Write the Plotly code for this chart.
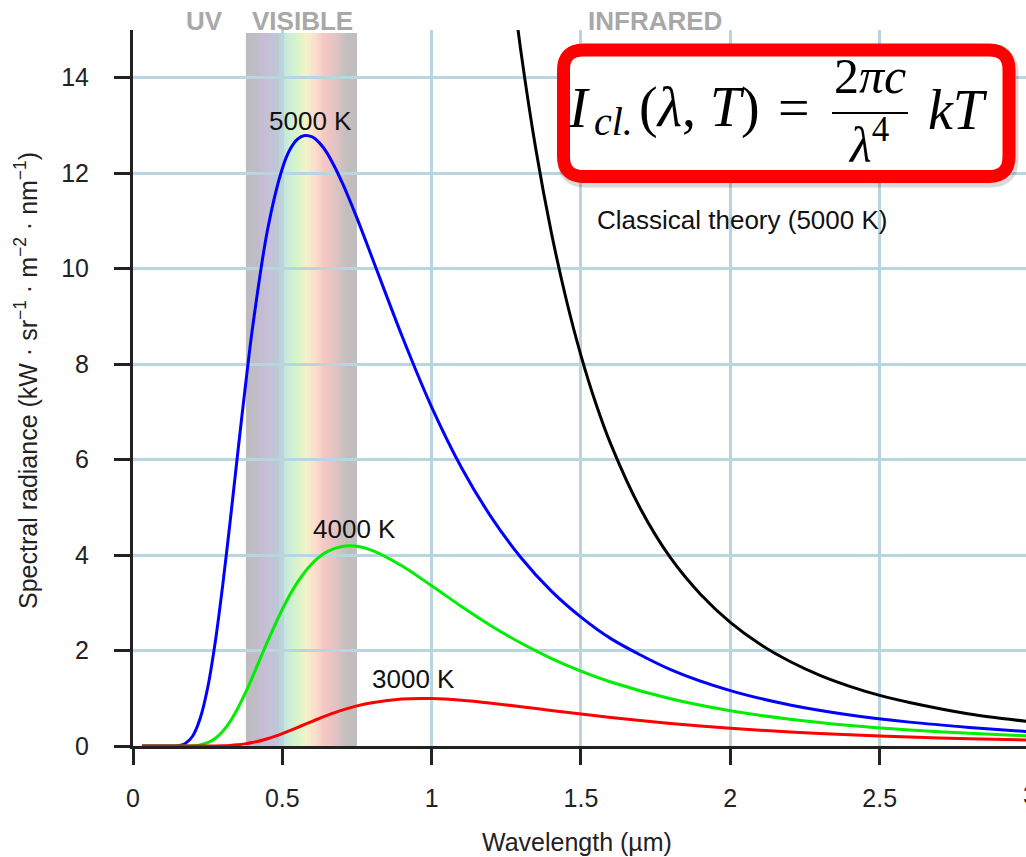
import plotly.graph_objects as go

# ---------------- data ----------------
wavelength_um = [0.03, 0.1, 0.15, 0.175, 0.2, 0.225, 0.25, 0.275, 0.3, 0.325, 0.35, 0.375,
                 0.4, 0.45, 0.5, 0.525, 0.55, 0.575, 0.6, 0.625, 0.65, 0.7, 0.75, 0.8, 0.9, 1.0,
                 1.1, 1.2, 1.3, 1.4, 1.5, 1.6, 1.8, 2.0, 2.2, 2.4, 2.6, 2.8, 3.0]

radiance_5000K = [0, 0, 0.007, 0.053, 0.21, 0.58, 1.22, 2.16, 3.35, 4.69, 6.10, 7.47,
                  8.75, 10.80, 12.10, 12.49, 12.71, 12.79, 12.76, 12.63, 12.42, 11.81, 11.06, 10.24, 8.60, 7.10,
                  5.83, 4.79, 3.94, 3.25, 2.70, 2.25, 1.60, 1.16, 0.86, 0.65, 0.50, 0.39, 0.30]

radiance_4000K = [0, 0, 0, 0.001, 0.006, 0.024, 0.069, 0.158, 0.304, 0.512, 0.781, 1.096,
                  1.445, 2.182, 2.865, 3.163, 3.423, 3.644, 3.823, 3.966, 4.071, 4.180, 4.183, 4.099, 3.775, 3.356,
                  2.922, 2.514, 2.152, 1.838, 1.568, 1.341, 0.989, 0.738, 0.560, 0.430, 0.336, 0.265, 0.212]

radiance_3000K = [0, 0, 0, 0, 0, 0, 0.0006, 0.002, 0.0056, 0.0128, 0.0255, 0.0449,
                  0.072, 0.152, 0.260, 0.322, 0.386, 0.452, 0.518, 0.581, 0.642, 0.751, 0.840, 0.907, 0.983, 0.993,
                  0.957, 0.896, 0.823, 0.745, 0.668, 0.597, 0.472, 0.372, 0.295, 0.235, 0.188, 0.152, 0.124]

classical_wavelength_um = [1.25, 1.3, 1.35, 1.4, 1.45, 1.5, 1.55, 1.6, 1.7, 1.8, 1.9, 2.0,
                           2.1, 2.2, 2.3, 2.4, 2.5, 2.6, 2.8, 3.0]
classical_5000K = [16.96, 14.50, 12.46, 10.78, 9.37, 8.18, 7.17, 6.32, 4.96, 3.94, 3.18, 2.59,
                   2.13, 1.77, 1.48, 1.25, 1.06, 0.91, 0.67, 0.51]

x_tick_vals = [0, 0.5, 1, 1.5, 2, 2.5]
x_tick_text = ["0", "0.5", "1", "1.5", "2", "2.5"]
y_tick_vals = [0, 2, 4, 6, 8, 10, 12, 14]

visible_band = (0.378, 0.75)
band_stops = [  # (wavelength, rgb)
    (0.378, (190, 188, 190)),
    (0.415, (192, 188, 200)),
    (0.445, (200, 190, 215)),
    (0.485, (188, 200, 214)),
    (0.51, (198, 234, 222)),
    (0.545, (212, 244, 202)),
    (0.58, (244, 242, 200)),
    (0.61, (250, 222, 204)),
    (0.64, (246, 200, 196)),
    (0.68, (225, 195, 195)),
    (0.715, (196, 190, 190)),
    (0.75, (192, 190, 190)),
]

# ---------------- layout helpers ----------------
W, H = 1026, 857
ML, MR, MT, MB = 133, 0, 30, 111
PW, PH = W - ML - MR, H - MT - MB


def X(px):
    return (px - ML) / PW


def Y(py):
    return (H - MB - py) / PH


FONT = "Liberation Sans, Arial, sans-serif"
SERIF = "Liberation Serif, Times New Roman, serif"

fig = go.Figure()

line_w = 3
spl = dict(shape="spline", smoothing=0.8)
fig.add_trace(go.Scatter(x=wavelength_um, y=radiance_5000K, mode="lines",
                         line=dict(color="#0000ff", width=line_w, **spl), name="5000 K"))
fig.add_trace(go.Scatter(x=wavelength_um, y=radiance_4000K, mode="lines",
                         line=dict(color="#00ee00", width=line_w, **spl), name="4000 K"))
fig.add_trace(go.Scatter(x=wavelength_um, y=radiance_3000K, mode="lines",
                         line=dict(color="#ff0000", width=line_w, **spl), name="3000 K"))
fig.add_trace(go.Scatter(x=classical_wavelength_um, y=classical_5000K, mode="lines",
                         line=dict(color="#000000", width=line_w, **spl),
                         name="Classical theory (5000 K)"))

shapes = []
# visible-light band (gradient from overlapping thin slices), drawn below the grid
n = 60
x0b, x1b = visible_band
step = (x1b - x0b) / n
for i in range(n):
    a = x0b + step * i
    m = a + step / 2
    for j in range(len(band_stops) - 1):
        if band_stops[j][0] <= m <= band_stops[j + 1][0]:
            t = (m - band_stops[j][0]) / (band_stops[j + 1][0] - band_stops[j][0])
            c0, c1 = band_stops[j][1], band_stops[j + 1][1]
            col = tuple(round(c0[k] + (c1[k] - c0[k]) * t) for k in range(3))
            break
    shapes.append(dict(type="rect", xref="x", yref="paper", x0=a, x1=min(a + step * 2.5, x1b),
                       y0=0, y1=Y(33), fillcolor="rgb(%d,%d,%d)" % col,
                       line=dict(width=0), layer="below"))


def rounded(l, t, r, b, rad):
    pts = []
    pts.append("M %f,%f" % (X(l + rad), Y(t)))
    pts.append("L %f,%f" % (X(r - rad), Y(t)))
    pts.append("Q %f,%f %f,%f" % (X(r), Y(t), X(r), Y(t + rad)))
    pts.append("L %f,%f" % (X(r), Y(b - rad)))
    pts.append("Q %f,%f %f,%f" % (X(r), Y(b), X(r - rad), Y(b)))
    pts.append("L %f,%f" % (X(l + rad), Y(b)))
    pts.append("Q %f,%f %f,%f" % (X(l), Y(b), X(l), Y(b - rad)))
    pts.append("L %f,%f" % (X(l), Y(t + rad)))
    pts.append("Q %f,%f %f,%f" % (X(l), Y(t), X(l + rad), Y(t)))
    pts.append("Z")
    return " ".join(pts)


# shadow + red formula box
shapes.append(dict(type="path", xref="paper", yref="paper",
                   path=rounded(565, 53, 1011, 180, 20),
                   line=dict(color="rgba(0,0,0,0.15)", width=15), fillcolor="rgba(0,0,0,0)", layer="above"))
shapes.append(dict(type="path", xref="paper", yref="paper",
                   path=rounded(563.5, 50, 1009, 176.5, 20),
                   line=dict(color="#ff0000", width=13), fillcolor="white", layer="above"))
# fraction bar
shapes.append(dict(type="line", xref="paper", yref="paper",
                   x0=X(832), x1=X(908), y0=Y(113), y1=Y(113),
                   line=dict(color="black", width=2), layer="above"))

ann = []


def text(px, py, s, size=26, color="#111111", family=FONT, xanchor="center", yanchor="middle", angle=0):
    ann.append(dict(x=X(px), y=Y(py), xref="paper", yref="paper", text=s, showarrow=False,
                    font=dict(size=size, color=color, family=family),
                    xanchor=xanchor, yanchor=yanchor, textangle=angle))


# curve labels
text(310, 121, "5000 K")
text(354, 529, "4000 K")
text(413, 679, "3000 K")
text(742, 220, "Classical theory (5000 K)")
# region labels
text(204, 21, "<b>UV</b>", size=26, color="#a8a8a8")
text(302, 21, "<b>VISIBLE</b>", size=26, color="#a8a8a8")
text(655, 21, "<b>INFRARED</b>", size=26, color="#a8a8a8")
# axis titles
text(577, 842, "Wavelength (µm)", size=25, color="#222222")
text(26, 381, "Spectral radiance (kW · sr<sup>−1</sup> · m<sup>−2</sup> · nm<sup>−1</sup>)",
     size=25, color="#222222", angle=-90)
# partially visible "3" tick label at the right edge
text(1030, 795, "3", size=25, color="#222222")
# formula  I_cl.(λ, T) = 2πc / λ⁴ kT
text(566, 108, "<i>I</i>", size=56, color="black", family=SERIF, xanchor="left")
text(592, 121, "<i>cl.</i>", size=40, color="black", family=SERIF, xanchor="left")
text(637, 108, "(<i>λ</i>, <i>T</i>)", size=56, color="black", family=SERIF, xanchor="left")
text(794, 108, "=", size=56, color="black", family=SERIF)
text(870, 76, "2<i>πc</i>", size=50, color="black", family=SERIF)
text(868, 142, "<i>λ</i><sup>4</sup>", size=50, color="black", family=SERIF)
text(958, 110, "<i>kT</i>", size=56, color="black", family=SERIF)

grid_col = "#b9d6e0"
fig.update_layout(
    width=W, height=H, autosize=False,
    margin=dict(l=ML, r=MR, t=MT, b=MB, pad=0),
    paper_bgcolor="white", plot_bgcolor="white",
    showlegend=False,
    shapes=shapes, annotations=ann,
    xaxis=dict(range=[0, 2.99], tickvals=x_tick_vals, ticktext=x_tick_text,
               showgrid=True, gridcolor=grid_col, gridwidth=3,
               showline=True, linecolor="#222222", linewidth=3,
               ticks="outside", ticklen=16, tickwidth=3, tickcolor="#222222",
               tickfont=dict(family=FONT, size=25, color="#222222"),
               ticklabelstandoff=12, zeroline=False),
    yaxis=dict(range=[0, 15], tickvals=y_tick_vals,
               showgrid=True, gridcolor=grid_col, gridwidth=3,
               showline=True, linecolor="#222222", linewidth=3,
               ticks="outside", ticklen=16, tickwidth=3, tickcolor="#222222",
               tickfont=dict(family=FONT, size=25, color="#222222"),
               ticklabelstandoff=20, zeroline=False),
)

fig.write_html("out.html", config={"displayModeBar": False},
               post_script="document.body.style.margin='0px';")
